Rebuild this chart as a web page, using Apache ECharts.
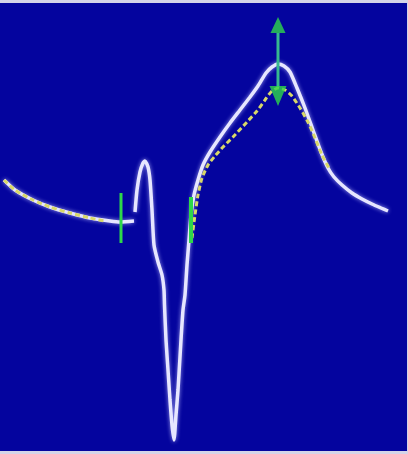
<!DOCTYPE html>
<html>
<head>
<meta charset="utf-8">
<script src="https://cdn.jsdelivr.net/npm/echarts@6/dist/echarts.min.js"></script>
<style>
html,body{margin:0;padding:0;background:#d4d4e8;}
#c{width:408px;height:454px;}
</style>
</head>
<body>
<div id="c"></div>
<script>
// Averaged beat (white) - time and amplitude (baseline = 0)
var whiteTime = [4,15,33,50,70,90,110,120,134,134.5,
  135,137,140,143,145,148,150,152,154,158,162,164,164.5,166,168,170,172,174,176,178,181,183,185,187,189,191,194,198,203,210,220,230,240,250,258,266,272,278,284,290,297,305,313,321,328,334,342,352,362,372,381,388];
var whiteAmp = [42,32,22,15,9,4,1,0,1,null,
  10,32,50,59,61,55,42,12,-23,-40,-53,-68,-83,-118,-148,-178,-203,-218,-193,-168,-118,-88,-73,-43,-18,7,27,42,57,70,85,99,112,125,136,149,155,158,156,150,134,114,92,70,54,45,37,29,23,18,14,11];
// Reference beat (yellow dashed)
var yellowTime = [4,15,33,50,70,90,105,106,
  192,195,198,202,208,215,223,233,247,257,265,271,278,285,292,300,308,315,322,330];
var yellowAmp = [42,32,22,15,9,4,1,null,
  -16,7,27,44,57,66,75,85,100,111,122,130,134,132,126,114,100,84,67,52];
// Green fiducial markers
var markerOnTime = [121, 121];
var markerOnAmp = [29, -21];
var markerJTime = [191, 191];
var markerJAmp = [25, -21];
var arrowTime = [278, 278];
var arrowAmp = [189, 135];
var arrowUpHead = [278, 197];
var arrowDownHead = [278, 126];

function zip(a, b) { return a.map(function (v, i) { return [v, b[i]]; }); }

var chart = echarts.init(document.getElementById('c'));
chart.setOption({
  animation: false,
  backgroundColor: 'transparent',
  grid: { left: 0, right: 1, top: 3, bottom: 3, show: true, backgroundColor: '#04049e', borderWidth: 0 },
  xAxis: { type: 'value', min: 0, max: 407, show: false },
  yAxis: { type: 'value', min: -229, max: 219, show: false },
  series: [
    {
      type: 'line', data: zip(whiteTime, whiteAmp), showSymbol: false, smooth: 0.2, connectNulls: false,
      lineStyle: { color: '#e6e6ff', width: 3.5, shadowColor: 'rgba(190,190,255,0.8)', shadowBlur: 4 }, z: 2
    },
    {
      type: 'line', data: zip(yellowTime, yellowAmp), showSymbol: false, smooth: 0.2, connectNulls: false,
      lineStyle: { color: '#d8d868', width: 3, type: [5, 3] }, z: 3
    },
    {
      type: 'line', data: zip(markerOnTime, markerOnAmp), showSymbol: false,
      lineStyle: { color: '#2ed84a', width: 3 }, z: 4
    },
    {
      type: 'line', data: zip(markerJTime, markerJAmp), showSymbol: false,
      lineStyle: { color: '#2ed84a', width: 4 }, z: 4
    },
    {
      type: 'line', data: zip(arrowTime, arrowAmp), showSymbol: false,
      lineStyle: { color: '#36b890', width: 3 }, z: 4
    },
    {
      type: 'scatter', data: [arrowUpHead], symbol: 'triangle', symbolSize: [15, 16],
      itemStyle: { color: '#2ed84a' }, z: 5
    },
    {
      type: 'scatter', data: [arrowDownHead], symbol: 'triangle', symbolSize: [17, 20], symbolRotate: 180,
      itemStyle: { color: '#2ed84a' }, z: 5
    }
  ]
});
</script>
</body>
</html>
